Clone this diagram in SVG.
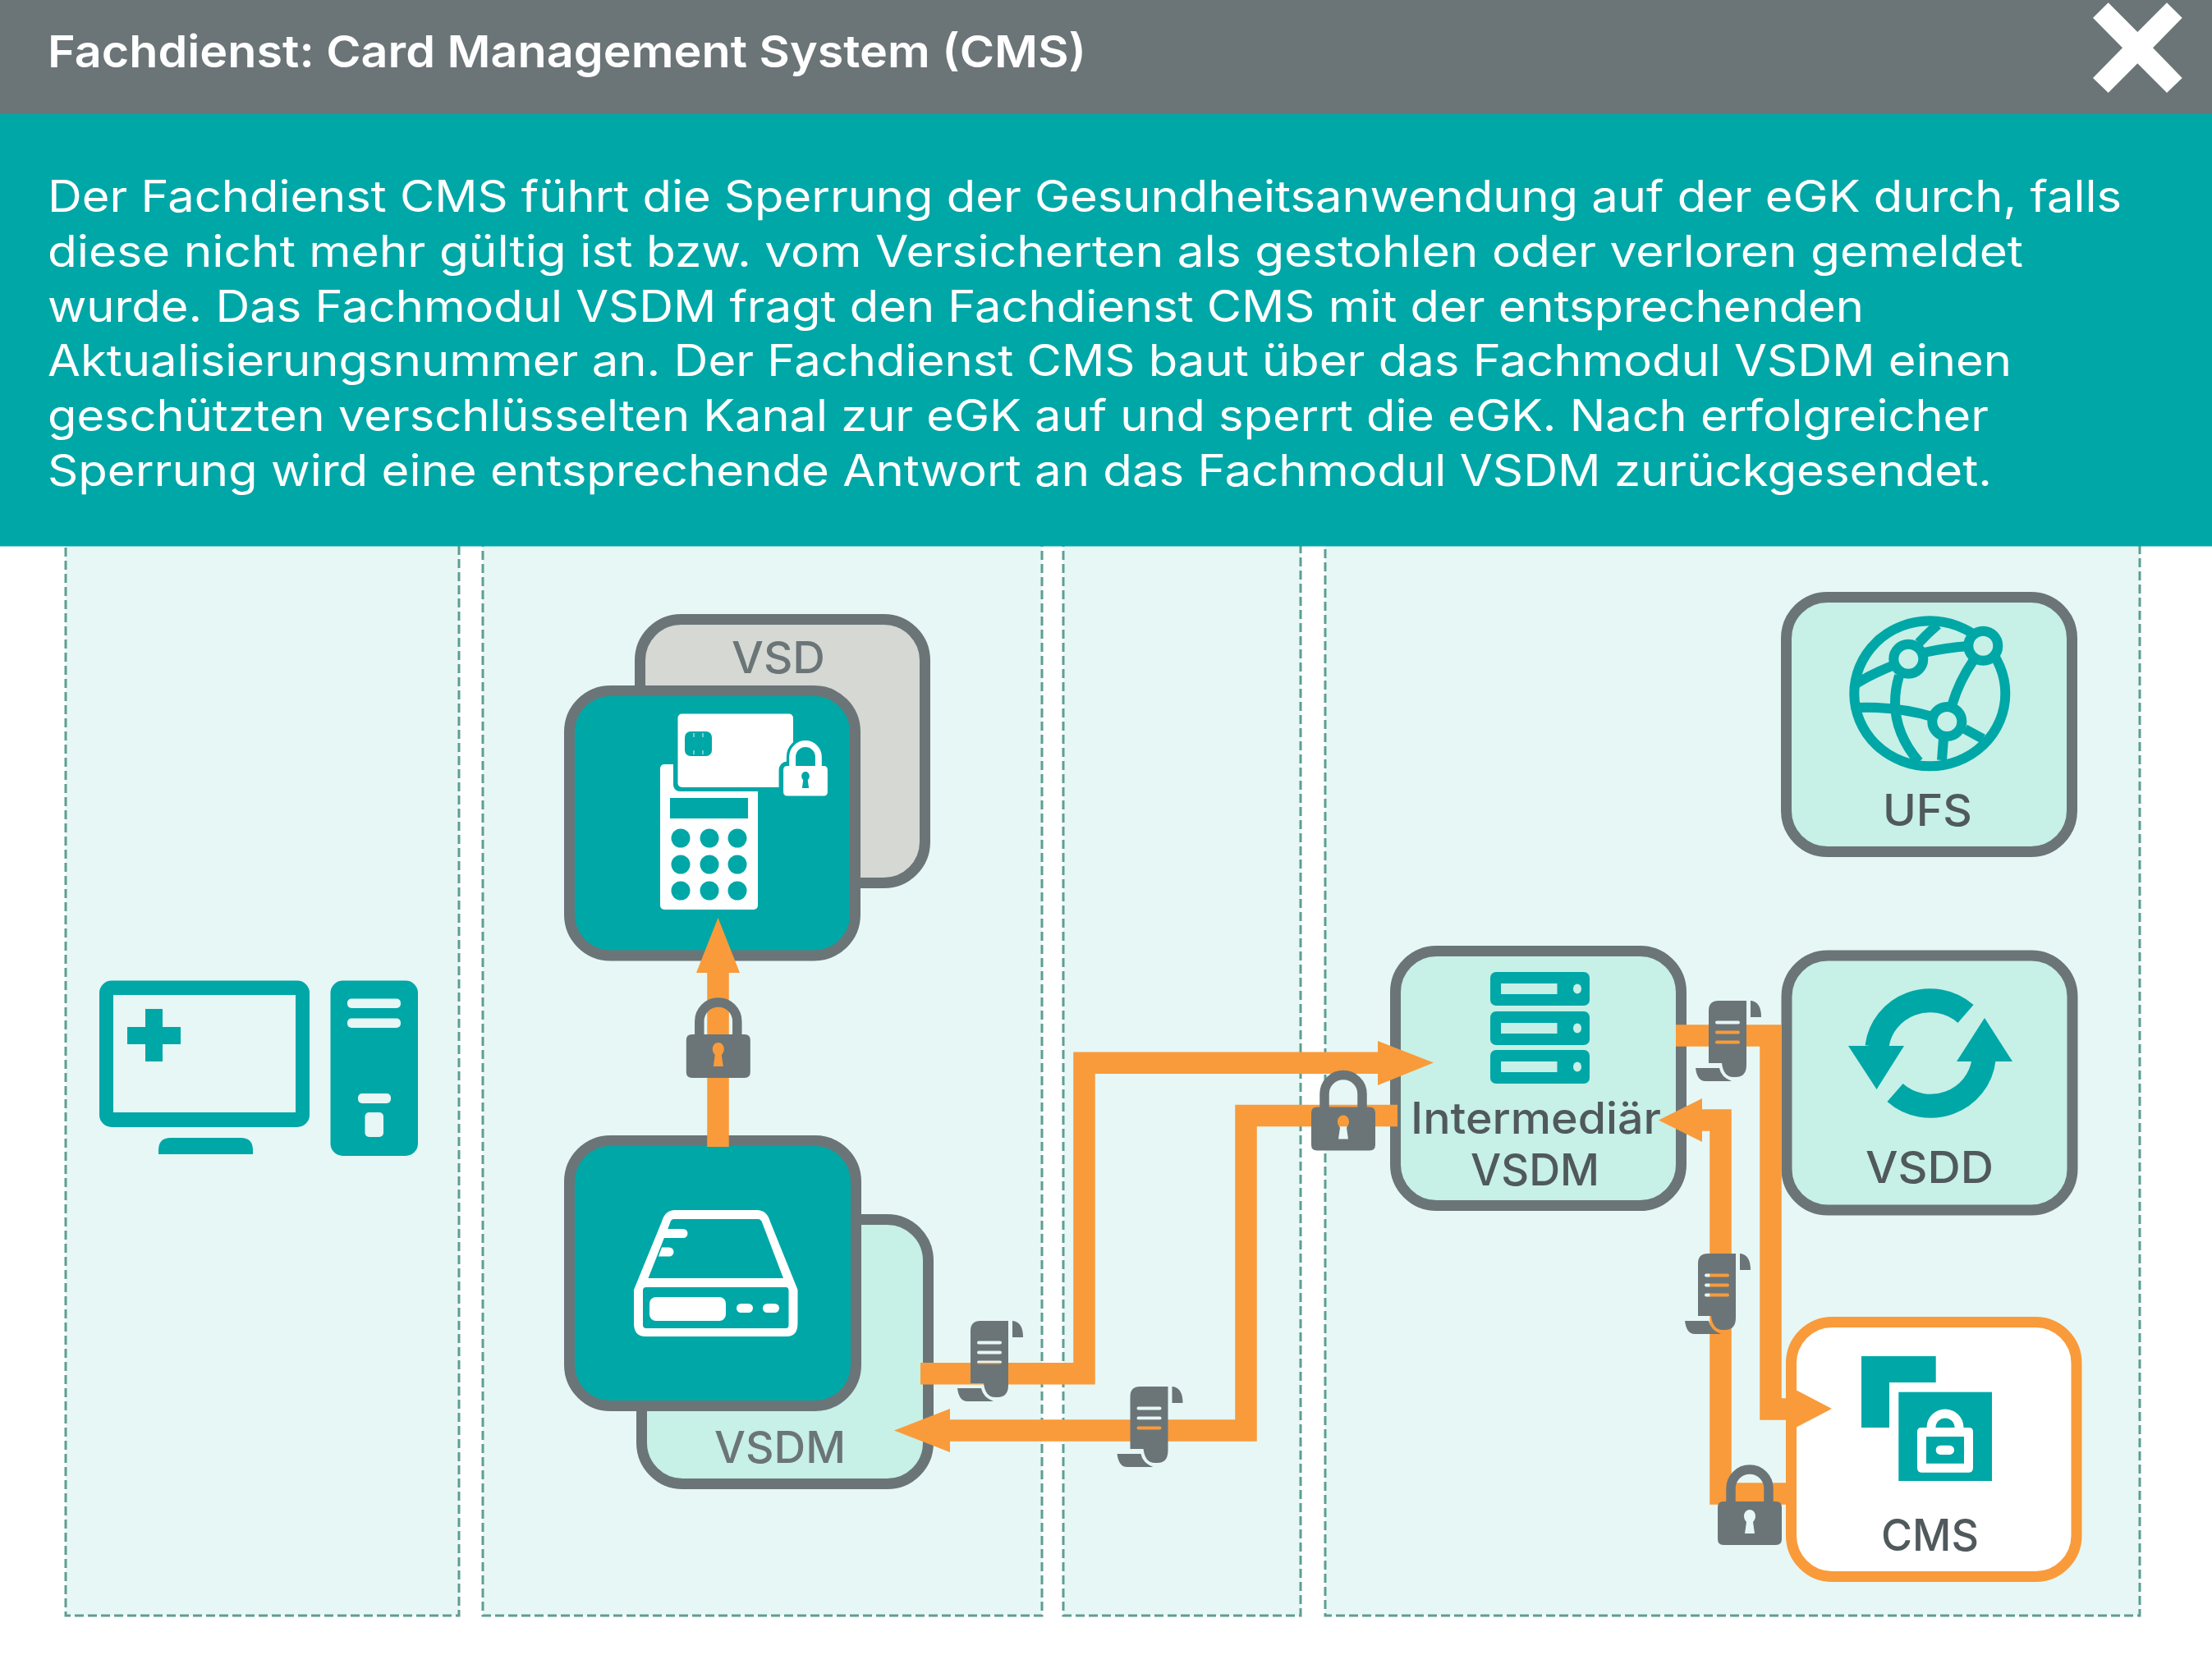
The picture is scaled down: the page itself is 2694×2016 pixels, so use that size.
<svg xmlns="http://www.w3.org/2000/svg" xmlns:xlink="http://www.w3.org/1999/xlink" width="2694" height="2016" viewBox="0 0 2694 2016">
<style>
text{font-family:Inter,"Noto Sans","Liberation Sans",sans-serif}
.panel{fill:#e6f7f6;stroke:#5e9e92;stroke-width:3;stroke-dasharray:11 5}
.node{stroke:#6b7578;stroke-width:13}
.light{fill:#c7f0e7}
.teal{fill:#00a7a7}
.white{fill:#fff}
.hole{fill:#c7f0e7}
.label{font-size:53px;font-weight:500;fill:#50595c;text-anchor:middle}
.label2{font-size:53px;font-weight:500;fill:#6b7578;text-anchor:middle}
.body{font-size:53px;font-weight:400;fill:#fff}
.conn{fill:none;stroke:#f99b3a;stroke-width:26.5}
.head{fill:#f99b3a}
.globe{fill:none;stroke:#00a7a7;stroke-width:12}
.gnode{fill:#c7f0e7;stroke:#00a7a7;stroke-width:12}
</style>
<defs>
<g id="lock">
<path d="M-23 2V-16A23 23 0 0 1 23 -16V2" fill="none" stroke="currentColor" stroke-width="11.5"/>
<path fill="currentColor" fill-rule="evenodd" d="M-32 0H32Q39 0 39 7V46Q39 53 32 53H-32Q-39 53 -39 46V7Q-39 0 -32 0ZM0 10C4.500 10 7 14 7 18C7 21 5.500 23 4 25L6 39H-6L-4 25C-5.500 23 -7 21 -7 18C-7 14 -4.500 10 0 10Z"/>
</g>
<path id="doc" fill="#6b7578" fill-rule="evenodd" d="M0 12Q0 0 12 0H46V78Q46 93 33 93H30Q18 93 16 76H0ZM10 24.500H36Q38 24.500 38 26.500T36 28.500H10Q8 28.500 8 26.500T10 24.500ZM10 36.500H36Q38 36.500 38 38.500T36 40.500H10Q8 40.500 8 38.500T10 36.500ZM10 48.500H36Q38 48.500 38 50.500T36 52.500H10Q8 52.500 8 50.500T10 48.500ZM51 0H52Q64 2 64 20H51ZM-16 82H13Q15 93 28 98H-4Q-14 98 -16 82Z"/>
</defs>

<g id="panels">
<rect class="panel" x="80" y="600" width="479" height="1368"/>
<rect class="panel" x="588" y="600" width="681" height="1368"/>
<rect class="panel" x="1295" y="600" width="289" height="1368"/>
<rect class="panel" x="1614" y="600" width="992" height="1368"/>
</g>

<g id="header">
<rect x="0" y="0" width="2694" height="139" fill="#6b7578"/>
<rect x="0" y="139" width="2694" height="526.500" fill="#00a7a7"/>
<text x="58" y="82" font-size="54" font-weight="600" fill="#fff" textLength="1265" lengthAdjust="spacingAndGlyphs">Fachdienst: Card Management System (CMS)</text>
<polygon class="white" points="2567.700,3.300 2603.300,39 2639,3.300 2657.700,21.700 2622,58.300 2657.700,95 2639,113 2603.300,77.300 2567.700,113 2549,95 2585,58.300 2549,21.700"/>
<text class="body" x="58" y="258" textLength="2526" lengthAdjust="spacingAndGlyphs">Der Fachdienst CMS führt die Sperrung der Gesundheitsanwendung auf der eGK durch, falls</text>
<text class="body" x="58" y="325" textLength="2406" lengthAdjust="spacingAndGlyphs">diese nicht mehr gültig ist bzw. vom Versicherten als gestohlen oder verloren gemeldet</text>
<text class="body" x="58" y="391.500" textLength="2212" lengthAdjust="spacingAndGlyphs">wurde. Das Fachmodul VSDM fragt den Fachdienst CMS mit der entsprechenden</text>
<text class="body" x="58" y="458" textLength="2392" lengthAdjust="spacingAndGlyphs">Aktualisierungsnummer an. Der Fachdienst CMS baut über das Fachmodul VSDM einen</text>
<text class="body" x="58" y="525" textLength="2364" lengthAdjust="spacingAndGlyphs">geschützten verschlüsselten Kanal zur eGK auf und sperrt die eGK. Nach erfolgreicher</text>
<text class="body" x="58" y="591.600" textLength="2368" lengthAdjust="spacingAndGlyphs">Sperrung wird eine entsprechende Antwort an das Fachmodul VSDM zurückgesendet.</text>
</g>

<g id="node-computer" class="teal">
<rect x="121" y="1194.600" width="256" height="178.400" rx="15"/>
<rect x="138" y="1212" width="222" height="143" fill="#e6f7f6"/>
<rect x="177" y="1229" width="21" height="64"/>
<rect x="155" y="1251" width="65" height="21"/>
<path d="M193 1406V1401Q193 1386 208 1386H293Q308 1386 308 1401V1406Z"/>
<rect x="402.500" y="1194.600" width="106.500" height="213.400" rx="15"/>
<rect x="423" y="1216.500" width="65" height="11.500" rx="5" fill="#e6f7f6"/>
<rect x="423" y="1240.500" width="65" height="11.500" rx="5" fill="#e6f7f6"/>
<rect x="436" y="1332" width="40" height="12" rx="5" fill="#e6f7f6"/>
<rect x="444.500" y="1355" width="22.500" height="30" rx="5" fill="#e6f7f6"/>
</g>

<g id="node-vsd">
<rect class="node" x="779.500" y="754.500" width="347" height="321" rx="50" fill="#d5d8d3"/>
<text class="label2" x="948" y="819.500" textLength="114" lengthAdjust="spacingAndGlyphs">VSD</text>
</g>

<g id="node-terminal">
<rect class="node teal" x="693.500" y="841.500" width="348" height="322.500" rx="50"/>
<rect class="white" x="804" y="931" width="119" height="177" rx="5"/>
<rect class="teal" x="816" y="972" width="95" height="25"/>
<g class="teal">
<ellipse cx="829" cy="1021" rx="11.500" ry="11.500"/><ellipse cx="864" cy="1021" rx="11.500" ry="11.500"/><ellipse cx="898" cy="1021" rx="11.500" ry="11.500"/>
<ellipse cx="829" cy="1053" rx="11.500" ry="11.500"/><ellipse cx="864" cy="1053" rx="11.500" ry="11.500"/><ellipse cx="898" cy="1053" rx="11.500" ry="11.500"/>
<ellipse cx="829" cy="1085" rx="11.500" ry="11.500"/><ellipse cx="864" cy="1085" rx="11.500" ry="11.500"/><ellipse cx="898" cy="1085" rx="11.500" ry="11.500"/>
</g>
<rect class="teal" x="820" y="864" width="151" height="100" rx="8"/>
<rect class="white" x="825.500" y="869.500" width="140.500" height="89.500" rx="5"/>
<rect class="teal" x="834" y="891" width="33" height="30" rx="7"/>
<path d="M845 893V919M856 893V919" stroke="#e6f7f6" stroke-width="1" stroke-dasharray="5 16" fill="none"/>
<g transform="translate(981 933) scale(.69)">
<rect x="-39" y="0" width="78" height="53" rx="7" class="teal" stroke="#00a7a7" stroke-width="16"/>
<path d="M-23 2V-16A23 23 0 0 1 23 -16V2" fill="none" stroke="#00a7a7" stroke-width="21"/>
<use href="#lock" xlink:href="#lock" color="#fff"/>
</g>
</g>

<g id="node-vsdm">
<rect class="node light" x="781.500" y="1485.500" width="349" height="322" rx="50"/>
<text class="label2" x="950" y="1782" textLength="160" lengthAdjust="spacingAndGlyphs">VSDM</text>
<rect class="node teal" x="693.500" y="1389.500" width="349" height="323" rx="50"/>
<g fill="#fff">
<path fill-rule="evenodd" d="M822 1474H922Q934 1474 938 1488L971.500 1571V1612Q971.500 1628 958 1628H786Q772 1628 772 1612V1571L806 1488Q810 1474 822 1474ZM821 1485H923Q927 1485 928.500 1490L954 1557H789.500L816 1490Q817 1485 821 1485ZM787 1568H957Q960.500 1568 960.500 1572V1614Q960.500 1618 957 1618H787Q783 1618 783 1614V1572Q783 1568 787 1568Z"/>
<path d="M812 1497H832A5.500 5.500 0 0 1 832 1508H808ZM806 1519.500H815A5.500 5.500 0 0 1 815 1530.500H802Z"/>
<rect x="791" y="1580" width="93" height="29" rx="8"/>
<rect x="897" y="1588" width="20" height="11" rx="5.500"/>
<rect x="929" y="1588" width="20" height="11" rx="5.500"/>
</g>
</g>

<g id="node-ufs">
<rect class="node light" x="2175.500" y="727.500" width="348" height="310" rx="50"/>
<ellipse class="globe" cx="2350.300" cy="844.800" rx="92" ry="88.500"/>
<path class="globe" d="M2260 833Q2282 820 2307 810M2337 783Q2347 772 2360 761M2343 795Q2370 789 2397 787M2313 823Q2296 880 2337 928M2260 862Q2310 860 2353 873M2403 805Q2386 830 2378 857M2393 888L2415 900M2367 900L2365 926"/>
<circle class="gnode" cx="2324.300" cy="802.700" r="18"/>
<circle class="gnode" cx="2415.300" cy="786.700" r="18"/>
<circle class="gnode" cx="2371.300" cy="879" r="18"/>
<text class="label" x="2347.500" y="1006" textLength="109" lengthAdjust="spacingAndGlyphs">UFS</text>
</g>

<g id="node-intermediaer">
<rect class="node light" x="1699.500" y="1158.500" width="348" height="310" rx="50"/>
<g class="teal">
<rect x="1815" y="1184" width="121" height="41" rx="7"/>
<rect x="1815" y="1232" width="121" height="41" rx="7"/>
<rect x="1815" y="1279" width="121" height="41" rx="7"/>
</g>
<g class="hole">
<rect x="1828" y="1198" width="68.500" height="13"/><ellipse cx="1921" cy="1204.500" rx="5" ry="6"/>
<rect x="1828" y="1246" width="68.500" height="13"/><ellipse cx="1921" cy="1252.500" rx="5" ry="6"/>
<rect x="1828" y="1293" width="68.500" height="13"/><ellipse cx="1921" cy="1299.500" rx="5" ry="6"/>
</g>
<text class="label" x="1870.500" y="1381" textLength="305" lengthAdjust="spacingAndGlyphs">Intermediär</text>
<text class="label" x="1869.500" y="1444" textLength="157" lengthAdjust="spacingAndGlyphs">VSDM</text>
</g>

<g id="node-vsdd">
<rect class="node light" x="2176" y="1164" width="348" height="310" rx="50"/>
<path d="M2286 1275A65 63.500 0 0 1 2394 1235M2416 1291A65 63.500 0 0 1 2308 1331" fill="none" stroke="#00a7a7" stroke-width="29"/>
<polygon class="teal" points="2251,1274 2319,1274 2285.600,1327"/>
<polygon class="teal" points="2417,1240 2451,1293 2383,1293"/>
<text class="label" x="2350" y="1441" textLength="156" lengthAdjust="spacingAndGlyphs">VSDD</text>
</g>

<g id="node-cms">
<rect x="2181.500" y="1610.500" width="347.500" height="310" rx="50" fill="#fff" stroke="#f99b3a" stroke-width="13"/>
<path class="teal" d="M2267 1652H2357.700V1684H2301V1739H2267Z"/>
<rect class="teal" x="2312.300" y="1695.700" width="113.700" height="108.300"/>
<path d="M2352 1739V1739A17 17 0 0 1 2386 1739" fill="none" stroke="#fff" stroke-width="11"/>
<path class="white" fill-rule="evenodd" d="M2340 1739H2398Q2403 1739 2403 1744V1788Q2403 1793.700 2398 1793.700H2340Q2335 1793.700 2335 1788V1744Q2335 1739 2340 1739ZM2346 1750V1782.700H2392V1750Z"/>
<rect class="white" x="2357.700" y="1760.700" width="22.300" height="11.300" rx="5.600"/>
<text class="label" x="2350.500" y="1889" textLength="119" lengthAdjust="spacingAndGlyphs">CMS</text>
</g>

<g id="connectors">
<path class="conn" d="M874.500 1397V1185"/>
<polygon class="head" points="874.500,1118 901,1185 848,1185"/>
<path class="conn" d="M1121 1673.250H1320.500V1294.750H1680"/>
<polygon class="head" points="1746,1294.600 1678,1322 1678,1268"/>
<path class="conn" d="M1702 1359H1517.500V1742.500H1157"/>
<polygon class="head" points="1089,1742.500 1157,1716 1157,1769"/>
<path class="conn" d="M2041 1261.500H2156.500V1716.500H2188"/>
<polygon class="head" points="2231,1716 2187,1739 2187,1693"/>
<path class="conn" d="M2187 1819.500H2095.500V1364.500H2072"/>
<polygon class="head" points="2020,1364.500 2073,1338 2073,1391"/>
</g>

<g id="connector-marks">
<use href="#lock" xlink:href="#lock" color="#6b7578" x="874.800" y="1260"/>
<use href="#lock" xlink:href="#lock" color="#6b7578" x="1636" y="1348.500"/>
<use href="#lock" xlink:href="#lock" color="#6b7578" x="2131" y="1829"/>
<use href="#doc" xlink:href="#doc" x="1182" y="1609"/>
<use href="#doc" xlink:href="#doc" x="1376.500" y="1689"/>
<use href="#doc" xlink:href="#doc" x="2081" y="1219"/>
<use href="#doc" xlink:href="#doc" x="2068" y="1527"/>
</g>
</svg>
